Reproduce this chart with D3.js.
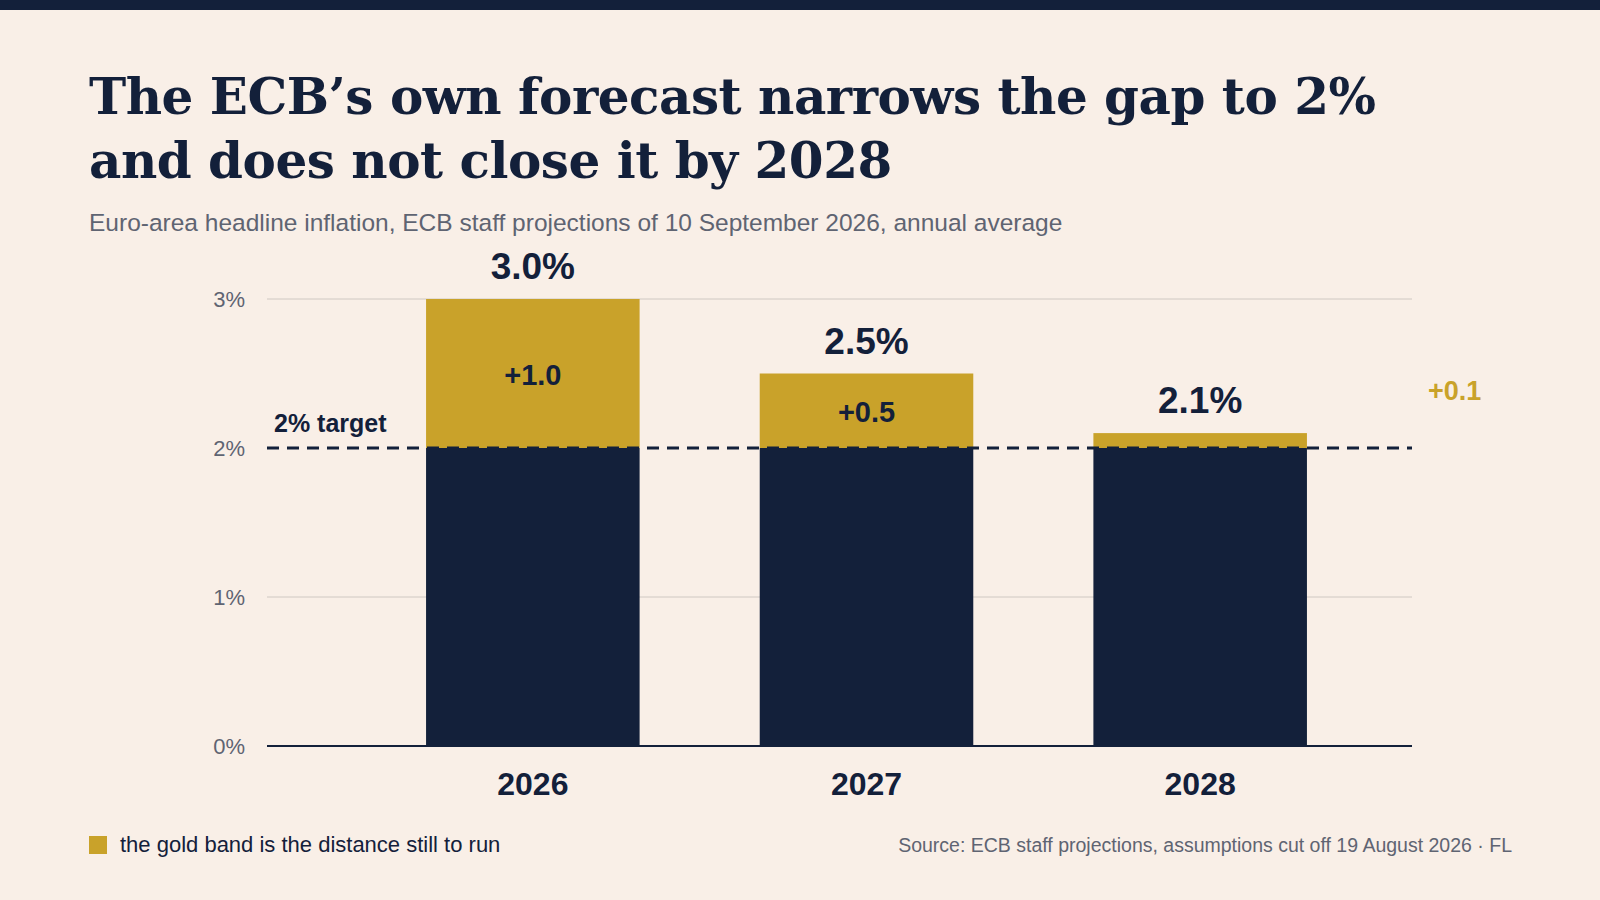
<!DOCTYPE html>
<html><head><meta charset="utf-8">
<script src="https://cdn.jsdelivr.net/npm/d3@7"></script>
<style>body{margin:0;background:#f9efe7;}svg{display:block}</style>
</head><body>
<svg id="c" width="1600" height="900"></svg>
<script>
const years = ["2026","2027","2028"];
const inflation = [3.0, 2.5, 2.1];
const target = 2.0;
const yTicks = [0,1,2,3];
const valueLabels = ["3.0%","2.5%","2.1%"];
const gapLabels = ["+1.0","+0.5","+0.1"];

const navy="#13203a", gold="#c9a22a", gray="#5f6472", sans="Helvetica, 'Liberation Sans', Arial, sans-serif";
const svg=d3.select("#c");
svg.append("rect").attr("width",1600).attr("height",900).attr("fill","#f9efe7");
svg.append("rect").attr("width",1600).attr("height",10).attr("fill",navy);
const title=svg.append("text").attr("font-family","'DejaVu Serif', Georgia, serif").attr("font-weight","bold").attr("font-size",50).attr("fill",navy).attr("letter-spacing",-0.5);
title.append("tspan").attr("x",89).attr("y",114).text("The ECB’s own forecast narrows the gap to 2%");
title.append("tspan").attr("x",89).attr("y",178).text("and does not close it by 2028");
svg.append("text").attr("x",89).attr("y",231).attr("font-family",sans).attr("font-size",24.5).attr("fill",gray)
 .text("Euro-area headline inflation, ECB staff projections of 10 September 2026, annual average");

const L=267,R=1412;
const y=d3.scaleLinear().domain([0,3]).range([746,299]);
const x=d3.scaleBand().domain(years).range([366,1367]).paddingInner(0.36).paddingOuter(0.18);

const g=svg.append("g");
g.selectAll(".grid").data(yTicks.filter(t=>t>0&&t!==2)).join("line").attr("x1",L).attr("x2",R)
 .attr("y1",d=>y(d)).attr("y2",d=>y(d)).attr("stroke","#cfc8c2").attr("stroke-width",1);
g.selectAll(".tl").data(yTicks).join("text").attr("x",245).attr("y",d=>y(d)+8).attr("text-anchor","end")
 .attr("font-family",sans).attr("font-size",22).attr("fill",gray).text(d=>d+"%");

const data=years.map((k,i)=>({k,v:inflation[i],lab:valueLabels[i],gap:gapLabels[i]}));
g.selectAll(".base").data(data).join("rect").attr("x",d=>x(d.k)).attr("width",x.bandwidth())
 .attr("y",y(target)).attr("height",y(0)-y(target)).attr("fill",navy);
g.selectAll(".gap").data(data).join("rect").attr("x",d=>x(d.k)).attr("width",x.bandwidth())
 .attr("y",d=>y(d.v)).attr("height",d=>y(target)-y(d.v)).attr("fill",gold);
g.append("line").attr("x1",L).attr("x2",R).attr("y1",y(target)).attr("y2",y(target))
 .attr("stroke",navy).attr("stroke-width",3).attr("stroke-dasharray","12,8");
g.append("line").attr("x1",L).attr("x2",R).attr("y1",y(0)).attr("y2",y(0)).attr("stroke",navy).attr("stroke-width",2);

g.selectAll(".vl").data(data).join("text").attr("x",d=>x(d.k)+x.bandwidth()/2).attr("y",d=>y(d.v)-20)
 .attr("text-anchor","middle").attr("font-family",sans).attr("font-weight","bold").attr("font-size",37).attr("fill",navy).text(d=>d.lab);
g.selectAll(".gl").data(data.filter(d=>d.v-target>=0.3)).join("text").attr("x",d=>x(d.k)+x.bandwidth()/2)
 .attr("y",d=>(y(d.v)+y(target))/2+11).attr("text-anchor","middle").attr("font-family",sans).attr("font-weight","bold")
 .attr("font-size",29).attr("fill",navy).text(d=>d.gap);
const small=data.filter(d=>d.v-target<0.3);
g.selectAll(".gs").data(small).join("text").attr("x",1428).attr("y",400).attr("font-family",sans).attr("font-weight","bold")
 .attr("font-size",27).attr("fill",gold).text(d=>d.gap);
g.selectAll(".yr").data(data).join("text").attr("x",d=>x(d.k)+x.bandwidth()/2).attr("y",795).attr("text-anchor","middle")
 .attr("font-family",sans).attr("font-weight","bold").attr("font-size",32).attr("fill",navy).text(d=>d.k);
g.append("text").attr("x",274).attr("y",432).attr("font-family",sans).attr("font-weight","bold").attr("font-size",25).attr("fill",navy).text("2% target");

svg.append("rect").attr("x",89).attr("y",836).attr("width",18).attr("height",18).attr("fill",gold);
svg.append("text").attr("x",120).attr("y",852).attr("font-family",sans).attr("font-size",22).attr("fill",navy).text("the gold band is the distance still to run");
svg.append("text").attr("x",1512).attr("y",852).attr("text-anchor","end").attr("font-family",sans).attr("font-size",19.5).attr("fill",gray)
 .text("Source: ECB staff projections, assumptions cut off 19 August 2026 · FL");
</script>
</body></html>
